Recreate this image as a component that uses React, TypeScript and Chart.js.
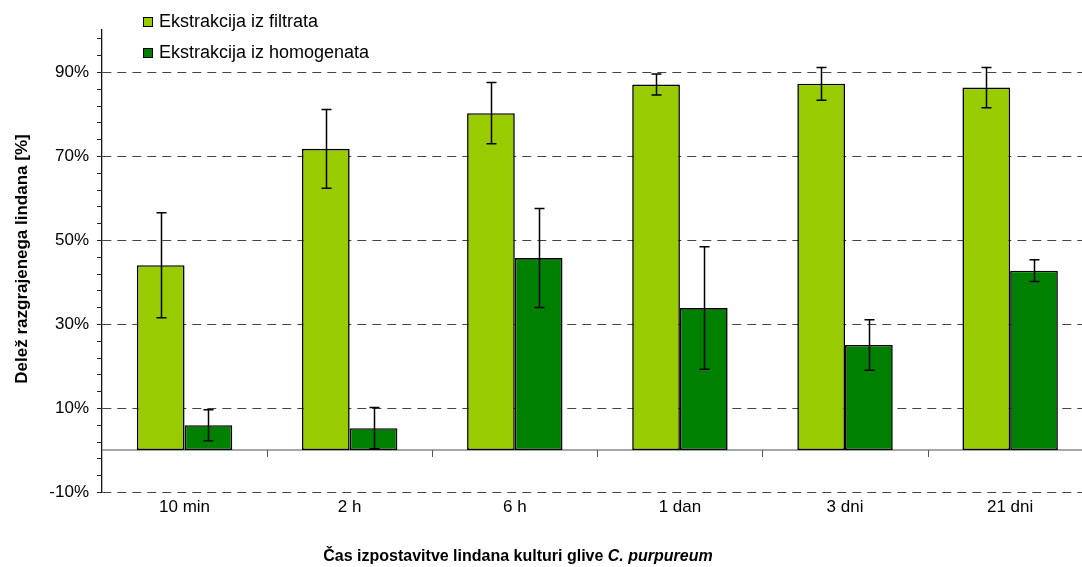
import React, { useEffect, useRef } from "react";
import { Chart, registerables } from "chart.js";

Chart.register(...registerables);

const categories = ["10 min", "2 h", "6 h", "1 dan", "3 dni", "21 dni"];
const seriesNames = ["Ekstrakcija iz filtrata", "Ekstrakcija iz homogenata"];
const filtrat = [44.0, 71.7, 80.2, 87.0, 87.2, 86.3];
const filtratErr = [12.5, 9.4, 7.3, 2.5, 3.9, 4.8];
const homogenat = [5.9, 5.2, 45.7, 33.8, 25.0, 42.7];
const homogenatErr = [3.7, 4.9, 11.8, 14.6, 6.0, 2.6];
const yTickValues = [-10, 10, 30, 50, 70, 90];
const yMin = -10;
const yMax = 100;
const minorStep = 4;
const seriesColors = ["#99CC00", "#008000"];
const errors = [filtratErr, homogenatErr];

const yTitle = "Delež razgrajenega lindana [%]";
const xTitleMain = "Čas izpostavitve lindana kulturi glive ";
const xTitleItalic = "C. purpureum";

const FONT = "'Liberation Sans', Arial, sans-serif";

const CANVAS_W = 1100;
const CANVAS_H = 567;

const decorPlugin = {
  id: "decor",
  beforeDatasetsDraw(chart: any) {
    const { ctx, chartArea, scales } = chart;
    const y = scales.y;
    const y0 = y.getPixelForValue(0);
    ctx.save();
    // zero line
    ctx.strokeStyle = "#8a8a8a";
    ctx.lineWidth = 1.5;
    ctx.beginPath();
    ctx.moveTo(chartArea.left, y0);
    ctx.lineTo(chartArea.right, y0);
    ctx.stroke();
    // category tick marks on zero line
    const n = categories.length;
    const cw = (chartArea.right - chartArea.left) / n;
    ctx.strokeStyle = "#555";
    ctx.lineWidth = 1;
    for (let i = 1; i < n; i++) {
      const px = Math.round(chartArea.left + i * cw) + 0.5;
      ctx.beginPath();
      ctx.moveTo(px, y0);
      ctx.lineTo(px, y0 + 7);
      ctx.stroke();
    }
    // minor ticks on y axis
    ctx.strokeStyle = "#222";
    for (let v = yMin; v <= yMax; v += minorStep) {
      const py = Math.round(y.getPixelForValue(v)) + 0.5;
      ctx.beginPath();
      ctx.moveTo(chartArea.left - 5, py);
      ctx.lineTo(chartArea.left, py);
      ctx.stroke();
    }
    ctx.restore();
  },
  afterDatasetsDraw(chart: any) {
    const { ctx, scales } = chart;
    const y = scales.y;
    ctx.save();
    ctx.strokeStyle = "#000";
    ctx.lineWidth = 1.5;
    chart.data.datasets.forEach((ds: any, di: number) => {
      const meta = chart.getDatasetMeta(di);
      meta.data.forEach((bar: any, i: number) => {
        const v = ds.data[i];
        const e = errors[di][i];
        const px = Math.round(bar.x) + 0.5;
        const top = y.getPixelForValue(v + e);
        const bot = y.getPixelForValue(v - e);
        ctx.beginPath();
        ctx.moveTo(px, top);
        ctx.lineTo(px, bot);
        ctx.moveTo(px - 5, top);
        ctx.lineTo(px + 5, top);
        ctx.moveTo(px - 5, bot);
        ctx.lineTo(px + 5, bot);
        ctx.stroke();
      });
    });
    ctx.restore();
  },
  afterDraw(chart: any) {
    const { ctx } = chart;
    ctx.save();
    // legend
    chart.data.datasets.forEach((ds: any, di: number) => {
      const cy = 22 + di * 31;
      ctx.fillStyle = ds.backgroundColor;
      ctx.fillRect(143.5, cy - 4.5, 9, 9);
      ctx.strokeStyle = "#000";
      ctx.lineWidth = 1;
      ctx.strokeRect(143.5, cy - 4.5, 9, 9);
      ctx.fillStyle = "#000";
      ctx.font = `18px ${FONT}`;
      ctx.textBaseline = "middle";
      ctx.textAlign = "left";
      ctx.fillText(ds.label, 159, cy);
    });
    // y title
    ctx.save();
    ctx.translate(22, 259);
    ctx.rotate(-Math.PI / 2);
    ctx.font = `bold 17px ${FONT}`;
    ctx.textAlign = "center";
    ctx.textBaseline = "middle";
    ctx.fillStyle = "#000";
    ctx.fillText(yTitle, 0, 0);
    ctx.restore();
    // x title
    ctx.font = `bold 16px ${FONT}`;
    const w1 = ctx.measureText(xTitleMain).width;
    ctx.font = `italic bold 16px ${FONT}`;
    const w2 = ctx.measureText(xTitleItalic).width;
    const startX = 518 - (w1 + w2) / 2;
    ctx.textBaseline = "middle";
    ctx.textAlign = "left";
    ctx.fillStyle = "#000";
    ctx.font = `bold 16px ${FONT}`;
    ctx.fillText(xTitleMain, startX, 557);
    ctx.font = `italic bold 16px ${FONT}`;
    ctx.fillText(xTitleItalic, startX + w1, 557);
    ctx.restore();
  },
};

export default function App() {
  const ref = useRef<HTMLCanvasElement | null>(null);
  useEffect(() => {
    if (!ref.current) return;
    const chart = new Chart(ref.current, {
      type: "bar",
      data: {
        labels: categories,
        datasets: [
          {
            label: seriesNames[0],
            data: filtrat,
            backgroundColor: seriesColors[0],
            borderColor: "#000",
            borderWidth: 1.6,
            borderSkipped: false,
            categoryPercentage: 0.578,
            barPercentage: 1,
          },
          {
            label: seriesNames[1],
            data: homogenat,
            backgroundColor: seriesColors[1],
            borderColor: "#000",
            borderWidth: 1.6,
            borderSkipped: false,
            categoryPercentage: 0.578,
            barPercentage: 1,
          },
        ],
      },
      options: {
        responsive: false,
        animation: false,
        devicePixelRatio: 1,
        layout: { padding: { top: 30, right: CANVAS_W - 1092.7, bottom: 0, left: 0 } },
        plugins: {
          legend: { display: false },
          tooltip: { enabled: false },
        },
        scales: {
          x: {
            grid: { display: false, drawTicks: false },
            border: { display: false },
            ticks: { color: "#000", font: { family: FONT, size: 17 }, padding: 5 },
            afterFit: (s: any) => {
              s.height = 75;
            },
          },
          y: {
            min: yMin,
            max: yMax,
            afterBuildTicks: (s: any) => {
              s.ticks = yTickValues.map((v) => ({ value: v }));
            },
            afterFit: (s: any) => {
              s.width = 102;
            },
            grid: { color: "#444", lineWidth: 1, drawTicks: true, tickLength: 5 },
            border: { display: true, color: "#111", width: 1.3, dash: [9, 6] },
            ticks: {
              color: "#000",
              font: { family: FONT, size: 17 },
              padding: 8,
              callback: (v: any) => `${v}%`,
            },
          },
        },
      },
      plugins: [decorPlugin],
    });
    return () => chart.destroy();
  }, []);
  return (
    <div
      style={{
        position: "fixed",
        left: 0,
        top: 0,
        width: 1082,
        height: 567,
        overflow: "hidden",
        background: "#fff",
      }}
    >
      <canvas ref={ref} width={CANVAS_W} height={CANVAS_H} style={{ display: "block" }} />
    </div>
  );
}
